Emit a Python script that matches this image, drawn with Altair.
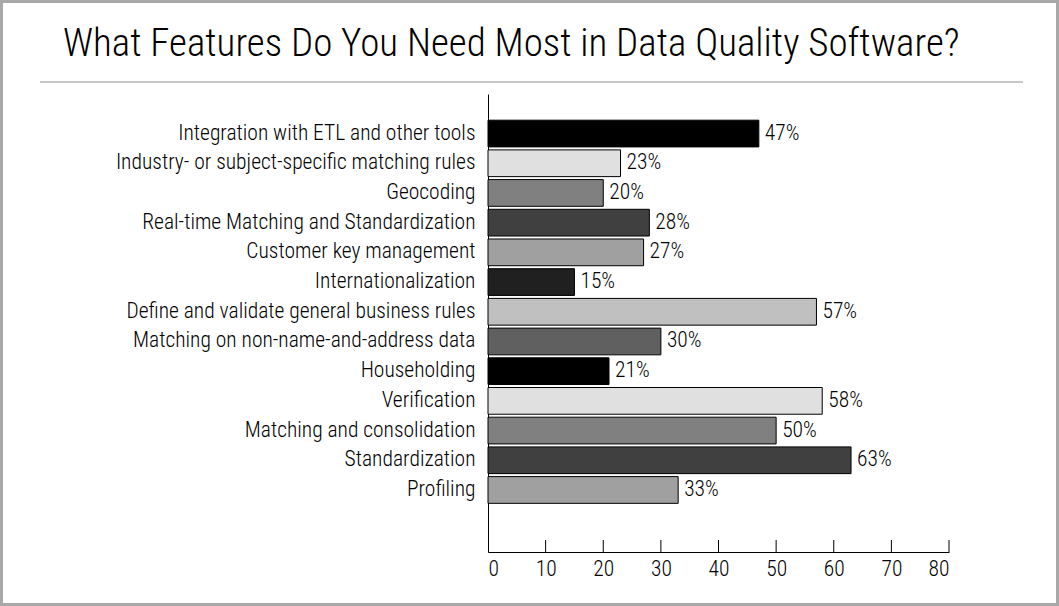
import altair as alt
import pandas as pd

features = [
    "Integration with ETL and other tools",
    "Industry- or subject-specific matching rules",
    "Geocoding",
    "Real-time Matching and Standardization",
    "Customer key management",
    "Internationalization",
    "Define and validate general business rules",
    "Matching on non-name-and-address data",
    "Householding",
    "Verification",
    "Matching and consolidation",
    "Standardization",
    "Profiling",
]
percent = [47, 23, 20, 28, 27, 15, 57, 30, 21, 58, 50, 63, 33]
shades = ["#000000", "#e0e0e0", "#808080", "#404040", "#a0a0a0", "#202020",
          "#c0c0c0", "#606060", "#000000", "#e0e0e0", "#808080", "#404040", "#a0a0a0"]
x_ticks = [0, 10, 20, 30, 40, 50, 60, 70, 80]
title_text = "What Features Do You Need Most in Data Quality Software?"

FONT = "Roboto Condensed, Liberation Sans Narrow, Arial Narrow, sans-serif"
FS = 21.5
FW = 300
W, H = 461, 458
LEFT, TOP = 488, 94

df = pd.DataFrame({"feature": features, "pct": percent, "shade": shades})
df["label"] = df["pct"].astype(str) + "%"

# an empty slot below the last bar leaves room above the axis
y_domain = features + [" "]
y_enc = alt.Y("feature:N", sort=y_domain,
              scale=alt.Scale(domain=y_domain, paddingInner=0.1, paddingOuter=0.76, align=0.58),
              axis=alt.Axis(title=None, ticks=False, domainColor="#000000", domainWidth=1,
                            labelFont=FONT, labelFontSize=FS, labelFontWeight=FW,
                            labelColor="#000000", labelPadding=13, labelLimit=450))
x_scale = alt.Scale(domain=[0, 80], nice=False)

bars = alt.Chart(df).mark_bar(stroke="#000000", strokeWidth=1).encode(
    x=alt.X("pct:Q", scale=x_scale,
            axis=alt.Axis(title=None, values=x_ticks, ticks=False, grid=False,
                          domainColor="#000000", domainWidth=1,
                          labelFont=FONT, labelFontSize=FS, labelFontWeight=FW,
                          labelColor="#000000", labelPadding=6)),
    y=y_enc,
    fill=alt.Fill("shade:N", scale=None),
)

labels = alt.Chart(df).mark_text(align="left", baseline="middle", dx=6,
                                 font=FONT, fontSize=FS, fontWeight=FW,
                                 color="#000000").encode(
    x=alt.X("pct:Q", scale=x_scale),
    y=alt.Y("feature:N", sort=y_domain),
    text="label:N",
)

# upward tick marks on the value axis
ticks = alt.Chart(pd.DataFrame({"t": x_ticks[1:]})).mark_rule(
    color="#000000", strokeWidth=1).encode(
    x=alt.X("t:Q", scale=x_scale),
    y=alt.value(H - 12),
    y2=alt.value(H),
)

one = pd.DataFrame({"k": [0]})
heading = alt.Chart(one).mark_text(
    text=title_text, align="left", baseline="alphabetic",
    font=FONT, fontSize=39, fontWeight=FW, color="#000000",
).encode(x=alt.value(63 - LEFT), y=alt.value(56 - TOP))
rule_under_title = alt.Chart(one).mark_rule(color="#c8c8c8", strokeWidth=2).encode(
    x=alt.value(40 - LEFT), x2=alt.value(1023 - LEFT), y=alt.value(82 - TOP)
)
frame = alt.Chart(one).mark_rect(fill=None, stroke="#a8a8a8", strokeWidth=3).encode(
    x=alt.value(1.5 - LEFT), x2=alt.value(1057.5 - LEFT),
    y=alt.value(1.5 - TOP), y2=alt.value(604.5 - TOP)
)

chart = alt.layer(frame, heading, rule_under_title, bars, labels, ticks).properties(
    width=W,
    height=H,
    autosize=alt.AutoSizeParams(type="none"),
    padding={"left": LEFT, "top": TOP, "right": 1059 - LEFT - W, "bottom": 606 - TOP - H},
).configure(background="#ffffff").configure_view(stroke=None, strokeWidth=0)

chart.save("out.html", embed_options={"renderer": "svg", "actions": False})
